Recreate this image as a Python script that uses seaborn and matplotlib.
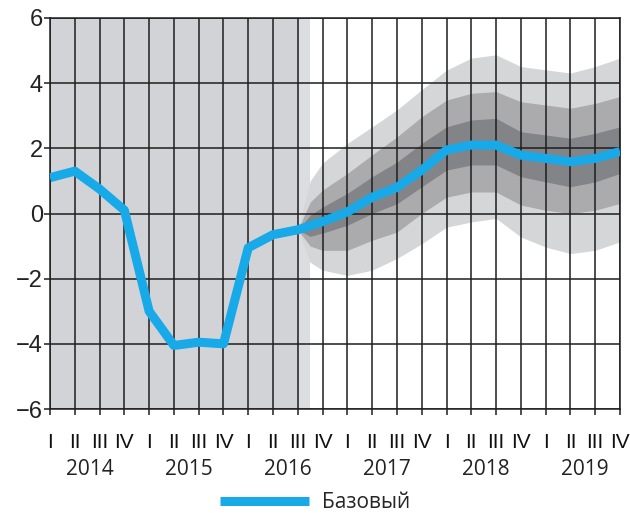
import matplotlib
matplotlib.use("Agg")
import matplotlib.pyplot as plt
import seaborn as sns
import numpy as np
import pandas as pd

# ---- data ----
quarters = ["I", "II", "III", "IV"] * 6
years = ["2014", "2015", "2016", "2017", "2018", "2019"]
base = [1.1, 1.3, 0.75, 0.1, -3.0, -4.05, -3.95, -4.0, -1.05, -0.65, -0.5,
        -0.25, 0.05, 0.5, 0.8, 1.33, 1.95, 2.1, 2.1, 1.79, 1.69, 1.59, 1.69, 1.9]

fan_x = [10, 10.5, 11, 12, 13, 14, 15, 16, 17, 18, 19, 20, 21, 22, 23]
light_hi = [-0.5, 1.0, 1.55, 2.15, 2.66, 3.18, 3.8, 4.4, 4.77, 4.87, 4.51, 4.41, 4.31, 4.51, 4.77]
med_hi   = [-0.5, 0.35, 0.72, 1.23, 1.8, 2.35, 2.97, 3.48, 3.69, 3.74, 3.43, 3.33, 3.23, 3.38, 3.59]
dark_hi  = [-0.5, -0.05, 0.2, 0.62, 1.13, 1.58, 2.15, 2.66, 2.87, 2.92, 2.51, 2.41, 2.31, 2.46, 2.66]
dark_lo  = [-0.5, -0.7, -0.6, -0.36, 0.0, 0.3, 0.82, 1.33, 1.49, 1.49, 1.13, 0.97, 0.82, 0.97, 1.23]
med_lo   = [-0.5, -1.0, -1.13, -1.13, -0.82, -0.57, 0.0, 0.5, 0.66, 0.66, 0.26, 0.1, 0.0, 0.1, 0.31]
light_lo = [-0.5, -1.5, -1.74, -1.9, -1.74, -1.38, -0.93, -0.42, -0.26, -0.15, -0.72, -1.03, -1.23, -1.13, -0.87]

df = pd.DataFrame({"q": np.arange(len(base)), "v": base})

sns.set_style("white")
plt.rcParams["font.family"] = ["Liberation Sans", "DejaVu Sans"]
plt.rcParams["lines.solid_capstyle"] = "butt"

fig = plt.figure(figsize=(6.3, 5.13), dpi=100)
ax = fig.add_axes([50 / 630, 1 - 409 / 513, 570 / 630, 391 / 513])

# history shading
ax.axvspan(0, 10, color="#d2d3d7", lw=0, zorder=0)
ax.axvspan(10, 10.5, color="#dcdde0", lw=0, zorder=0)

# fan bands
ax.fill_between(fan_x, light_lo, light_hi, color="#d5d6d8", lw=0, zorder=1)
ax.fill_between(fan_x, med_lo, med_hi, color="#ababae", lw=0, zorder=1)
ax.fill_between(fan_x, dark_lo, dark_hi, color="#838488", lw=0, zorder=1)

# grid
for xv in range(len(base)):
    ax.axvline(xv, color="#1e1e1e", lw=1.1, zorder=2)
for yv in range(-6, 7, 2):
    ax.axhline(yv, color="#1e1e1e", lw=1.1, zorder=2)

sns.lineplot(data=df, x="q", y="v", ax=ax, color="#17a9e8", lw=6.5,
             zorder=5, label="Базовый", legend=False)
for ln in ax.get_lines():
    ln.set_solid_joinstyle("round")

ax.set_xlim(0, 23)
ax.set_ylim(-6, 6)
ax.set_xlabel("")
ax.set_ylabel("")
ax.set_yticks(range(-6, 7, 2))
ax.set_yticklabels([str(v).replace("-", "\u2212") for v in range(-6, 7, 2)],
                   fontsize=17, color="#222222")
ax.set_xticks(range(len(base)))
ax.set_xticklabels(quarters, fontsize=15,
                   family=["Liberation Sans Narrow", "Liberation Sans", "DejaVu Sans"],
                   color="#111111")
ax.tick_params(axis="y", length=4, width=1.1, pad=1, color="#1e1e1e", left=True)
ax.tick_params(axis="x", length=4, width=1.1, pad=13, color="#1e1e1e", bottom=True)
for s in ax.spines.values():
    s.set_color("#1e1e1e")
    s.set_linewidth(1.1)
    s.set_zorder(3)

trans = ax.get_xaxis_transform()
for i, yr in enumerate(years):
    ax.text(1.6 + 4 * i, -0.155, yr, transform=trans, ha="center", va="center",
            fontsize=15, family=["Open Sans", "DejaVu Sans"], color="#222222")

h, l = ax.get_legend_handles_labels()
fig.legend(h, l, loc="center", bbox_to_anchor=(0.5, 0.02), frameon=False,
           prop={"family": ["Open Sans", "DejaVu Sans"], "size": 15},
           handlelength=4.3, handletextpad=0.6, borderpad=0.1)

fig.savefig("out.png", dpi=100)
